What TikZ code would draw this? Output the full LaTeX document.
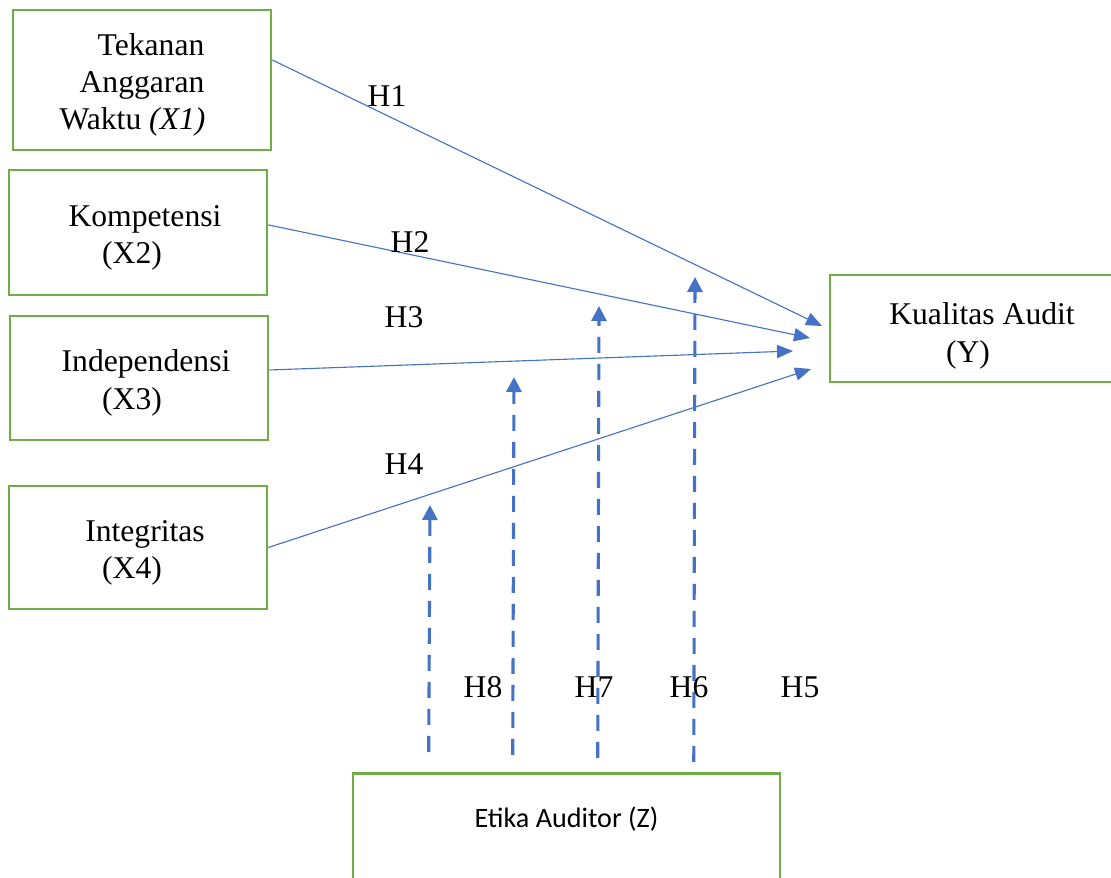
\documentclass[tikz,border=0pt]{standalone}
\usepackage{fontspec}
\setmainfont{Liberation Serif}
\newfontfamily\carlito{Carlito}
\usetikzlibrary{arrows.meta}
\definecolor{boxgreen}{HTML}{70AD47}
\definecolor{lineblue}{HTML}{4472C4}
\newcommand{\topgap}{\rule{0pt}{22.5pt}}
\tikzset{
  var/.style={draw=boxgreen,line width=1.8pt,inner sep=0pt,align=center,font=\fontsize{22.5}{26.5}\selectfont},
  hyp/.style={anchor=base,inner sep=0pt,font=\fontsize{22.5}{26.5}\selectfont},
  effect/.style={color=lineblue,line width=0.8pt,-{Triangle[length=0.4cm,width=0.33cm]}},
  moderate/.style={color=lineblue,line width=2.2pt,dash pattern=on 0.4cm off 0.275cm,-{Triangle[length=0.375cm,width=0.375cm]}}
}
\begin{document}
\begin{tikzpicture}[x=0.025cm,y=-0.025cm]
  \useasboundingbox (0,0) rectangle (1111,878);
  % variables
  \node[var,minimum width=6.45cm,minimum height=3.5cm] (x1) at (142,80)
    {\topgap\hspace*{0.45cm}Tekanan\\Anggaran\\Waktu \textit{(X1)}\hspace*{0.475cm}};
  \node[var,minimum width=6.45cm,minimum height=3.125cm] (x2) at (138,232.5)
    {\topgap\hspace*{0.35cm}Kompetensi\\(X2)\hspace*{0.3cm}};
  \node[var,minimum width=6.45cm,minimum height=3.1cm] (x3) at (139,378)
    {\topgap\hspace*{0.35cm}Independensi\\(X3)\hspace*{0.35cm}};
  \node[var,minimum width=6.45cm,minimum height=3.075cm] (x4) at (138,547.5)
    {\topgap\hspace*{0.35cm}Integritas\\(X4)\hspace*{0.3cm}};
  \node[var,minimum width=7.6cm,minimum height=2.675cm] (y) at (982,328.5)
    {\rule{0pt}{26pt}Kualitas Audit\\(Y)\hspace*{0.7cm}};
  \node[var,anchor=north,minimum width=10.675cm,text height=1.35cm,text depth=1.85cm,font=\carlito\fontsize{20}{24}\selectfont] (z) at (566.5,772)
    {Etika Auditor (Z)};
  % arrow tips
  \coordinate (t1) at (822,326);
  \coordinate (t2) at (810,338);
  \coordinate (t3) at (793,351);
  \coordinate (t4) at (811,369);
  \coordinate (m1) at (430,505);
  \coordinate (m2) at (514,377);
  \coordinate (m3) at (599,306);
  \coordinate (m4) at (695,277);
  \draw[effect] ([yshift=0.5cm]x1.east) -- (t1);
  \draw[effect] ([yshift=0.19cm]x2.east) -- (t2);
  \draw[effect] ([yshift=0.2cm]x3.east) -- (t3);
  \draw[effect] (x4.east) -- (t4);
  \draw[moderate] ([xshift=1.925cm,yshift=0.5cm]z.north west) -- (m1);
  \draw[moderate] ([xshift=4.025cm,yshift=0.425cm]z.north west) -- (m2);
  \draw[moderate] ([xshift=6.15cm,yshift=0.35cm]z.north west) -- (m3);
  \draw[moderate] ([xshift=8.55cm,yshift=0.25cm]z.north west) -- (m4);
  % labels
  \node[hyp] (h1) at (387,107) {H1};
  \node[hyp] (h2) at (410,253) {H2};
  \node[hyp] (h3) at (404,328) {H3};
  \node[hyp] (h4) at (404,475) {H4};
  \node[hyp] (h8) at (483,697) {H8};
  \node[hyp] (h7) at (594,697) {H7};
  \node[hyp] (h6) at (689,697) {H6};
  \node[hyp] (h5) at (800,697) {H5};
\end{tikzpicture}
\end{document}
